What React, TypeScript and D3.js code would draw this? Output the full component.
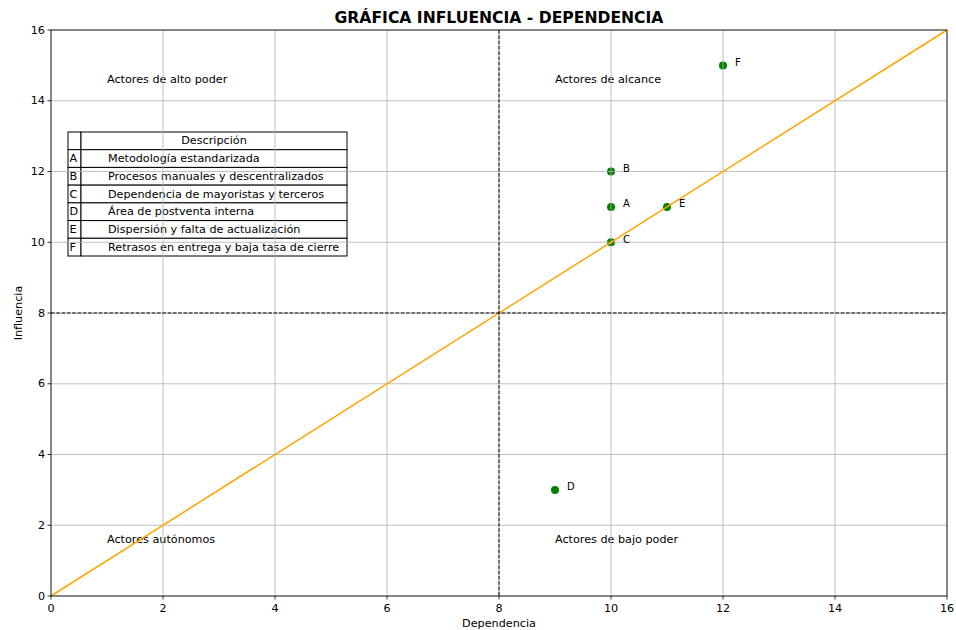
import React from "react";
import * as d3 from "d3";

const labels = ["A", "B", "C", "D", "E", "F"];
const dependencia = [10, 10, 10, 9, 11, 12];
const influencia = [11, 12, 10, 3, 11, 15];
const descripciones = [
  "Metodología estandarizada",
  "Procesos manuales y descentralizados",
  "Dependencia de mayoristas y terceros",
  "Área de postventa interna",
  "Dispersión y falta de actualización",
  "Retrasos en entrega y baja tasa de cierre",
];
const ticks = [0, 2, 4, 6, 8, 10, 12, 14, 16];
const quadrants = [
  { text: "Actores de alto poder", x: 1, y: 14.5 },
  { text: "Actores de alcance", x: 9, y: 14.5 },
  { text: "Actores autónomos", x: 1, y: 1.5 },
  { text: "Actores de bajo poder", x: 9, y: 1.5 },
];

export default function App() {
  const W = 956, H = 630;
  const L = 51, R = 947, T = 30, B = 596;
  const x = d3.scaleLinear().domain([0, 16]).range([L, R]);
  const y = d3.scaleLinear().domain([0, 16]).range([B, T]);
  const font = "DejaVu Sans, sans-serif";
  const fs = 11.2;
  const line = d3.line<number>().x((d) => x(d)).y((d) => y(d));

  const tX0 = 68, tX1 = 81, tX2 = 347, tY0 = 132;
  const rowH = (256 - 132) / 7;

  return (
    <svg width={W} height={H} style={{ position: "absolute", left: 0, top: 0, background: "white" }} fontFamily={font}>
      <rect x={0} y={0} width={W} height={H} fill="white" />
      {/* quadrant texts */}
      {quadrants.map((q) => (
        <text key={q.text} x={x(q.x)} y={y(q.y)} fontSize={fs}>{q.text}</text>
      ))}
      {/* table */}
      <g>
        {d3.range(7).map((i) => (
          <g key={i}>
            <rect x={tX0} y={tY0 + i * rowH} width={tX1 - tX0} height={rowH} fill="white" stroke="black" strokeWidth={1} />
            <rect x={tX1} y={tY0 + i * rowH} width={tX2 - tX1} height={rowH} fill="white" stroke="black" strokeWidth={1} />
          </g>
        ))}
        <text x={(tX1 + tX2) / 2} y={tY0 + rowH / 2} fontSize={fs} textAnchor="middle" dominantBaseline="central">Descripción</text>
        {labels.map((l, i) => (
          <g key={l}>
            <text x={tX0 + 1.5} y={tY0 + (i + 1.5) * rowH} fontSize={fs} dominantBaseline="central">{l}</text>
            <text x={108} y={tY0 + (i + 1.5) * rowH} fontSize={fs} dominantBaseline="central">{descripciones[i]}</text>
          </g>
        ))}
      </g>
      {/* points */}
      {labels.map((l, i) => (
        <circle key={l} cx={x(dependencia[i])} cy={y(influencia[i])} r={4} fill="green" />
      ))}
      {/* grid */}
      {ticks.map((t) => (
        <g key={t}>
          <line x1={x(t)} x2={x(t)} y1={T} y2={B} stroke="#b0b0b0" strokeWidth={0.8} />
          <line x1={L} x2={R} y1={y(t)} y2={y(t)} stroke="#b0b0b0" strokeWidth={0.8} />
        </g>
      ))}
      {/* diagonal */}
      <path d={line([0, 16]) as string} stroke="orange" strokeWidth={1.5} fill="none" />
      {/* point labels */}
      {labels.map((l, i) => (
        <text key={l} x={x(dependencia[i]) + 12} y={y(influencia[i]) - 3} fontSize={10} dominantBaseline="central">{l}</text>
      ))}
      {/* dashed lines */}
      <line x1={x(8)} x2={x(8)} y1={T} y2={B} stroke="black" strokeWidth={1} strokeDasharray="3.7,1.6" />
      <line x1={L} x2={R} y1={y(8)} y2={y(8)} stroke="black" strokeWidth={1} strokeDasharray="3.7,1.6" />
      {/* frame */}
      <rect x={L} y={T} width={R - L} height={B - T} fill="none" stroke="black" strokeWidth={0.8} />
      {/* ticks */}
      {ticks.map((t) => (
        <g key={"t" + t}>
          <line x1={x(t)} x2={x(t)} y1={B} y2={B + 3.5} stroke="black" strokeWidth={0.8} />
          <text x={x(t)} y={B + 12} fontSize={fs} textAnchor="middle" dominantBaseline="central">{t}</text>
          <line x1={L - 3.5} x2={L} y1={y(t)} y2={y(t)} stroke="black" strokeWidth={0.8} />
          <text x={L - 6} y={y(t)} fontSize={fs} textAnchor="end" dominantBaseline="central">{t}</text>
        </g>
      ))}
      <text x={(L + R) / 2} y={627} fontSize={fs} textAnchor="middle">Dependencia</text>
      <text transform={`translate(22,${(T + B) / 2}) rotate(-90)`} fontSize={fs} textAnchor="middle">Influencia</text>
      <text x={(L + R) / 2} y={23} fontSize={15.6} fontWeight="bold" textAnchor="middle">GRÁFICA INFLUENCIA - DEPENDENCIA</text>
    </svg>
  );
}
